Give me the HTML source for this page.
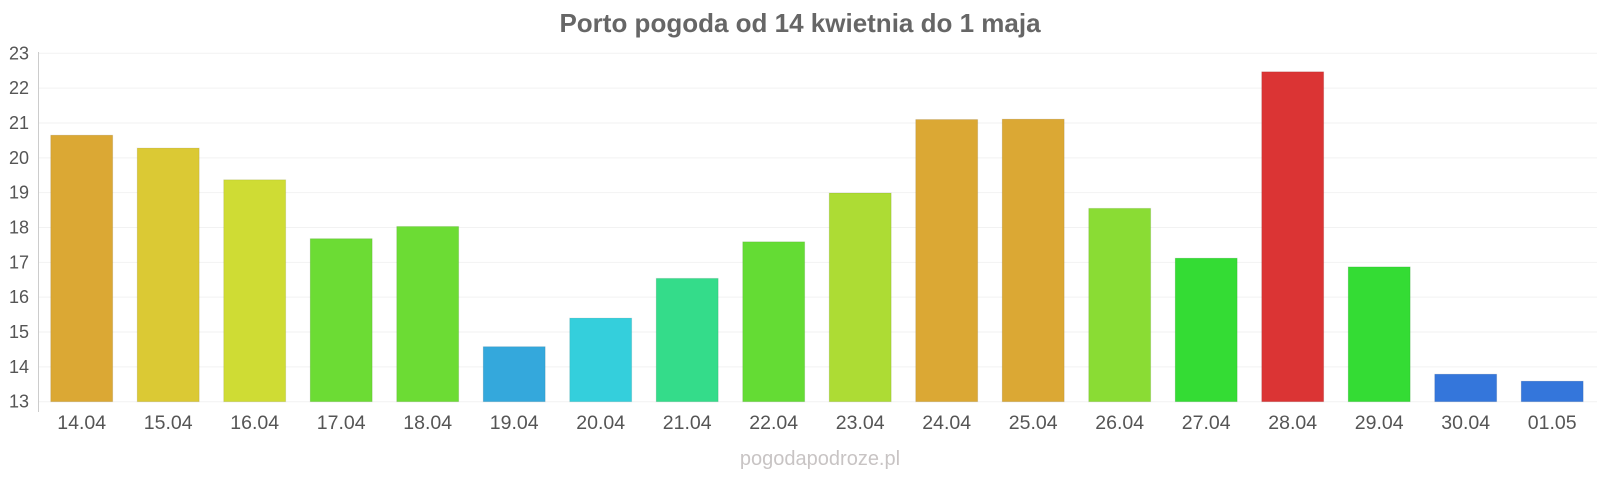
<!DOCTYPE html>
<html><head><meta charset="utf-8"><style>
html,body{margin:0;padding:0;background:#fff;}
svg{display:block;font-family:"Liberation Sans",Arial,sans-serif;}
</style></head><body>
<svg width="1600" height="480" viewBox="0 0 1600 480" xmlns="http://www.w3.org/2000/svg">
<text x="800" y="32" text-anchor="middle" font-size="26" font-weight="bold" fill="#666">Porto pogoda od 14 kwietnia do 1 maja</text>
<g id="grid" stroke="#f2f2f2" stroke-width="1"></g>
<g id="ylab" font-size="18" fill="#555" text-anchor="end"></g>
<line x1="38.5" y1="52" x2="38.5" y2="412" stroke="#ccc" stroke-width="1"/>
<g id="bars"></g>
<g id="xlab" font-size="19.5" fill="#555" text-anchor="middle"></g>
<text x="820" y="465" text-anchor="middle" font-size="20" fill="#c8c4c4">pogodapodroze.pl</text>
<script>
var ns="http://www.w3.org/2000/svg";
function el(t,a,p,txt){var e=document.createElementNS(ns,t);for(var k in a)e.setAttribute(k,a[k]);if(txt!=null)e.textContent=txt;document.getElementById(p).appendChild(e);}
var y0=401.7,u=34.84;
for(var v=13;v<=23;v++){var y=y0-(v-13)*u;el('line',{x1:38.7,x2:1597,y1:y,y2:y},'grid');el('text',{x:29,y:y+6},'ylab',v);}
var d=[["14.04",20.65,"#dba834"],["15.04",20.28,"#dbc934"],["16.04",19.37,"#cfdc34"],["17.04",17.68,"#6cdc34"],["18.04",18.03,"#6cdc34"],["19.04",14.58,"#34a8dc"],["20.04",15.40,"#34cfdc"],["21.04",16.54,"#34dc8a"],["22.04",17.59,"#64dc34"],["23.04",18.99,"#addc34"],["24.04",21.10,"#dba834"],["25.04",21.11,"#dba834"],["26.04",18.55,"#8adc34"],["27.04",17.12,"#34dc34"],["28.04",22.47,"#db3434"],["29.04",16.87,"#34dc34"],["30.04",13.79,"#3476db"],["01.05",13.59,"#3476db"]];
d.forEach(function(b,i){var x=50.7+i*86.5;var top=y0-(b[1]-13)*u;
el('rect',{x:x,y:top,width:62,height:y0-top,fill:b[2],stroke:"rgba(0,0,0,0.08)","stroke-width":1},'bars');
el('text',{x:x+31,y:429},'xlab',b[0]);});
</script>
</svg>
</body></html>
